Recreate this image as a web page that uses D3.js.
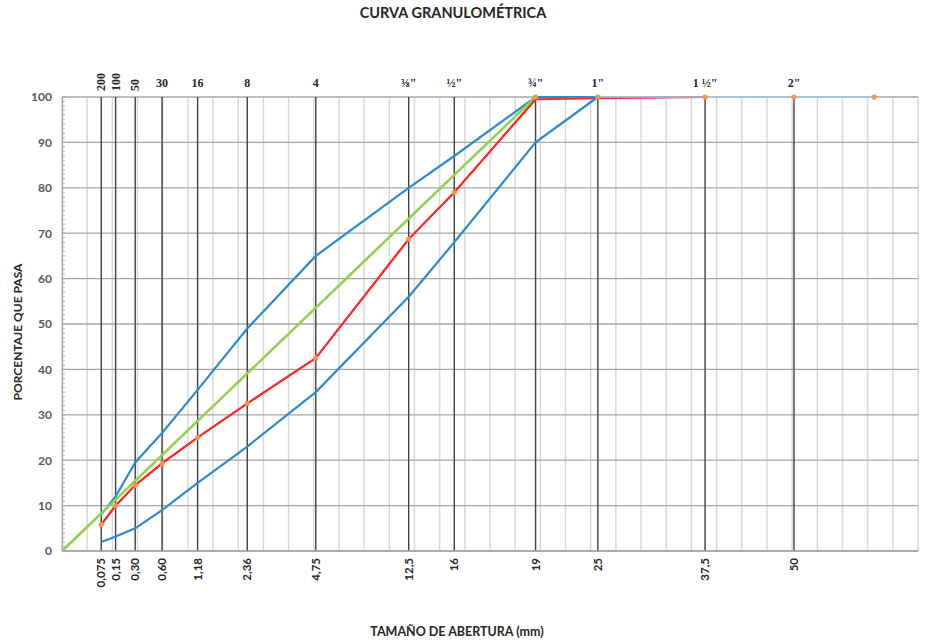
<!DOCTYPE html>
<html>
<head>
<meta charset="utf-8">
<script src="https://cdn.jsdelivr.net/npm/d3@7"></script>
<style>
	body { margin: 0; background: #fff; }
	svg text { font-family: Lato, "Open Sans", sans-serif; }
	.serif { font-family: "Liberation Serif", "DejaVu Serif", serif !important; }
</style>
</head>
<body>
<div id="chart-area"></div>
<script>
// Sieve openings (mm) and their labels
let sieves = [0.075, 0.15, 0.30, 0.60, 1.18, 2.36, 4.75, 9.5, 12.5, 19, 25, 37.5, 50];
let mmLabels = ["0,075", "0,15", "0,30", "0,60", "1,18", "2,36", "4,75", "12,5", "16", "19", "25", "37,5", "50"];
let sieveNames = ["200", "100", "50", "30", "16", "8", "4", "⅜\"", "½\"", "¾\"", "1\"", "1 ½\"", "2\""];
let rotatedNames = ["200", "100", "50"];

// Gradation band limits (% passing) on the first 11 sieves
let upperLimit = [8, 12, 19.5, 26, 35.5, 49, 65, 80, 87, 100, 100];
let lowerLimit = [2, 3.2, 5, 9, 15, 23, 35, 56, 68, 90, 100];

// Sample curve (% passing), sieves 0.075 .. 37.5
let sample = [5.8, 10, 14.5, 19.3, 25, 32.5, 42.5, 68.7, 79, 99.5, 99.7, 100];

// Maximum density (Fuller) line
let fullerSizes = [0, 19];
let fullerValues = [0, 100];

// Top sizes at 100 %
let topSizes = [19, 25, 37.5, 50, 63];
let topValues = [100, 100, 100, 100, 100];

let yTicks = [0, 10, 20, 30, 40, 50, 60, 70, 80, 90, 100];

let width = 931, height = 642;
let margin = {top: 97, right: 13, bottom: 91, left: 62};

let svg = d3.select("#chart-area").append("svg")
	.attr("width", width)
	.attr("height", height);

let exponent = 0.45;
let maxUnit = 6.8;

// x: power scale 0.45 (gradation chart)
let x = d3.scalePow()
	.exponent(exponent)
	.domain([0, Math.pow(maxUnit, 1 / exponent)])
	.range([margin.left, width - margin.right]);

let y = d3.scaleLinear()
	.domain([0, 100])
	.range([height - margin.bottom, margin.top]);

// light vertical grid every 0.2 power units
let gridUnits = d3.range(0, maxUnit + 0.001, 0.2);
svg.append("g")
	.selectAll("line")
	.data(gridUnits)
	.enter()
	.append("line")
	.attr("x1", d => x(Math.pow(d, 1 / exponent)))
	.attr("x2", d => x(Math.pow(d, 1 / exponent)))
	.attr("y1", y(0))
	.attr("y2", y(100))
	.attr("stroke", "#d9d9d9")
	.attr("stroke-width", 1.5);

// horizontal grid
svg.append("g")
	.selectAll("line")
	.data(yTicks)
	.enter()
	.append("line")
	.attr("x1", x(0))
	.attr("x2", width - margin.right)
	.attr("y1", d => y(d))
	.attr("y2", d => y(d))
	.attr("stroke", "#a6a6a6")
	.attr("stroke-width", 1.3);

// sieve lines
svg.append("g")
	.selectAll("line")
	.data(sieves)
	.enter()
	.append("line")
	.attr("x1", d => x(d))
	.attr("x2", d => x(d))
	.attr("y1", y(0))
	.attr("y2", y(100))
	.attr("stroke", "#404040")
	.attr("stroke-width", 1.4);

// y axis with minor ticks
let yAxis = d3.axisLeft(y)
	.tickValues(yTicks)
	.tickSize(0)
	.tickPadding(10);

let yg = svg.append("g")
	.attr("transform", "translate(" + x(0) + ",0)")
	.call(yAxis);
yg.select(".domain").attr("stroke", "#a6a6a6").attr("stroke-width", 1.3);
yg.selectAll("text")
	.attr("fill", "#595959")
	.style("font-size", "12px")
	.style("font-weight", "bold");

svg.append("g")
	.selectAll("line")
	.data(d3.range(0, 101, 1))
	.enter()
	.append("line")
	.attr("x1", x(0))
	.attr("x2", x(0) + 3)
	.attr("y1", d => y(d))
	.attr("y2", d => y(d))
	.attr("stroke", "#a6a6a6")
	.attr("stroke-width", 0.8);

// bottom axis line
svg.append("line")
	.attr("x1", x(0))
	.attr("x2", width - margin.right)
	.attr("y1", y(0))
	.attr("y2", y(0))
	.attr("stroke", "#a6a6a6")
	.attr("stroke-width", 1.3);

// bottom mm labels
svg.append("g")
	.selectAll("text")
	.data(sieves)
	.enter()
	.append("text")
	.attr("transform", (d, i) => "translate(" + (x(d) + 4) + "," + (y(0) + 7) + ") rotate(-90)")
	.attr("text-anchor", "end")
	.attr("fill", "#262626")
	.style("font-size", "11.5px")
	.style("font-weight", "bold")
	.text((d, i) => mmLabels[i]);

// top sieve names
svg.append("g")
	.selectAll("text")
	.data(sieves)
	.enter()
	.append("text")
	.attr("class", "serif")
	.attr("transform", (d, i) => rotatedNames.includes(sieveNames[i])
		? "translate(" + (x(d) + 4) + "," + (y(100) - 6) + ") rotate(-90)"
		: "translate(" + x(d) + "," + (y(100) - 10) + ")")
	.attr("text-anchor", (d, i) => rotatedNames.includes(sieveNames[i]) ? "start" : "middle")
	.attr("fill", "#262626")
	.style("font-size", "12px")
	.style("font-weight", "bold")
	.text((d, i) => sieveNames[i]);

// lines
let line = d3.line()
	.x(d => x(d[0]))
	.y(d => y(d[1]));

let sampleData = sieves.slice(0, sample.length).map((d, i) => [d, sample[i]]);
svg.append("path")
	.datum(sampleData)
	.attr("d", line)
	.attr("fill", "none")
	.attr("stroke", "#ff2a2a")
	.attr("stroke-width", 2);

svg.append("path")
	.datum(topSizes.map((d, i) => [d, topValues[i]]))
	.attr("d", line)
	.attr("fill", "none")
	.attr("stroke", "#9dc3e6")
	.attr("stroke-width", 2)
	.attr("opacity", 0.75);

svg.append("path")
	.datum(sieves.slice(0, upperLimit.length).map((d, i) => [d, upperLimit[i]]))
	.attr("d", line)
	.attr("fill", "none")
	.attr("stroke", "#2e8bcf")
	.attr("stroke-width", 2.2);

svg.append("path")
	.datum(sieves.slice(0, lowerLimit.length).map((d, i) => [d, lowerLimit[i]]))
	.attr("d", line)
	.attr("fill", "none")
	.attr("stroke", "#2e8bcf")
	.attr("stroke-width", 2.2);

svg.append("path")
	.datum(fullerSizes.map((d, i) => [d, fullerValues[i]]))
	.attr("d", line)
	.attr("fill", "none")
	.attr("stroke", "#92d050")
	.attr("stroke-width", 2.6);

svg.append("path")
	.datum(sampleData.slice(0, 10))
	.attr("d", line)
	.attr("fill", "none")
	.attr("stroke", "#ff2a2a")
	.attr("stroke-width", 2);

// markers
svg.append("g")
	.selectAll("circle")
	.data(sampleData.slice(0, 9).concat(topSizes.map((d, i) => [d, topValues[i]])))
	.enter()
	.append("circle")
	.attr("cx", d => x(d[0]))
	.attr("cy", d => y(d[1]))
	.attr("r", 2.6)
	.attr("fill", "#f79646");

// titles
svg.append("text")
	.attr("x", 453)
	.attr("y", 18)
	.attr("text-anchor", "middle")
	.attr("fill", "#262626")
	.style("font-size", "14.5px")
	.style("font-weight", "bold")
	.text("CURVA GRANULOMÉTRICA");

svg.append("text")
	.attr("x", 457)
	.attr("y", 636)
	.attr("text-anchor", "middle")
	.attr("fill", "#262626")
	.style("font-size", "12.5px")
	.style("font-weight", "bold")
	.text("TAMAÑO DE ABERTURA (mm)");

svg.append("text")
	.attr("transform", "translate(22," + ((y(0) + y(100)) / 2 + 8) + ") rotate(-90)")
	.attr("text-anchor", "middle")
	.attr("fill", "#262626")
	.style("font-size", "12px")
	.style("font-weight", "bold")
	.text("PORCENTAJE QUE PASA");
</script>
</body>
</html>
